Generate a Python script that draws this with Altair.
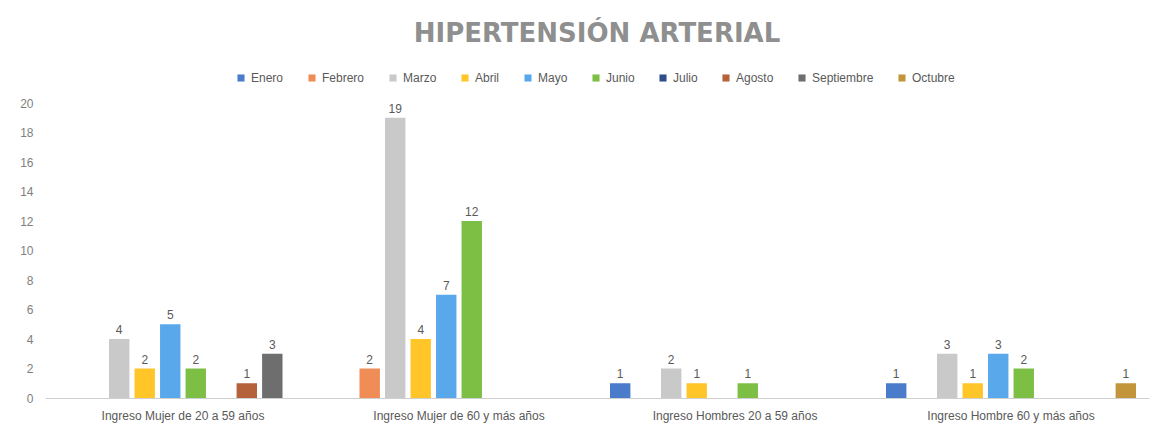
import altair as alt
import pandas as pd

groups = [
    "Ingreso Mujer de 20 a 59 años",
    "Ingreso Mujer de 60 y más años",
    "Ingreso Hombres 20 a 59 años",
    "Ingreso Hombre 60 y más años",
]
months = ["Enero", "Febrero", "Marzo", "Abril", "Mayo", "Junio",
          "Julio", "Agosto", "Septiembre", "Octubre"]
colors = ["#4A7CCB", "#F08C55", "#C9C9C9", "#FFC529", "#5AA8EC", "#7DBF45",
          "#2E4E8A", "#B5613A", "#6E6E6E", "#C3953A"]

enero = [None, None, 1, 1]
febrero = [None, 2, None, None]
marzo = [4, 19, 2, 3]
abril = [2, 4, 1, 1]
mayo = [5, 7, None, 3]
junio = [2, 12, 1, 2]
julio = [None, None, None, None]
agosto = [1, None, None, None]
septiembre = [3, None, None, None]
octubre = [None, None, None, 1]

series = [enero, febrero, marzo, abril, mayo, junio, julio, agosto, septiembre, octubre]
rows = []
for m, vals in zip(months, series):
    for g, v in zip(groups, vals):
        if v is not None:
            rows.append({"grupo": g, "mes": m, "valor": v})
df = pd.DataFrame(rows)

font = "Liberation Sans"

x = alt.X("grupo:N", sort=groups, title=None,
          scale=alt.Scale(domain=groups, paddingInner=0.094, paddingOuter=0.047),
          axis=alt.Axis(labelAngle=0, ticks=False, domainColor="#D0D0D0",
                        labelColor="#595959", labelFontSize=12, labelFont=font,
                        labelPadding=12))
xo = alt.XOffset("mes:N", sort=months,
                 scale=alt.Scale(domain=months, paddingInner=0.2, paddingOuter=0))
y = alt.Y("valor:Q", title=None,
          scale=alt.Scale(domain=[0, 20]),
          axis=alt.Axis(values=list(range(0, 21, 2)), grid=False, domain=False,
                        ticks=False, labelColor="#7F7F7F", labelFontSize=12,
                        labelFont=font, labelPadding=12))
color = alt.Color("mes:N", sort=months,
                  scale=alt.Scale(domain=months, range=colors),
                  legend=alt.Legend(title=None, orient="none", direction="horizontal",
                                    legendX=190, legendY=-31,
                                    symbolType="square", symbolSize=50,
                                    labelFontSize=12, labelFont=font,
                                    labelColor="#595959", columnPadding=22))

bars = alt.Chart(df).mark_bar().encode(x=x, xOffset=xo, y=y, color=color)
labels = alt.Chart(df).mark_text(dy=-9, fontSize=12, font=font, color="#595959").encode(
    x=x, xOffset=xo, y=y, text="valor:Q")

chart = (bars + labels).properties(
    width=1104, height=295,
    title=alt.TitleParams("HIPERTENSIÓN ARTERIAL", fontSize=26, font="DejaVu Sans",
                          fontWeight="bold", color="#8F8F8F", anchor="middle", offset=25),
    autosize=alt.AutoSizeParams(type="none"),
    padding={"left": 37, "top": 95, "right": 10, "bottom": 30},
).configure_view(stroke=None)

chart.save("out.html", embed_options={"renderer": "svg", "actions": False})
